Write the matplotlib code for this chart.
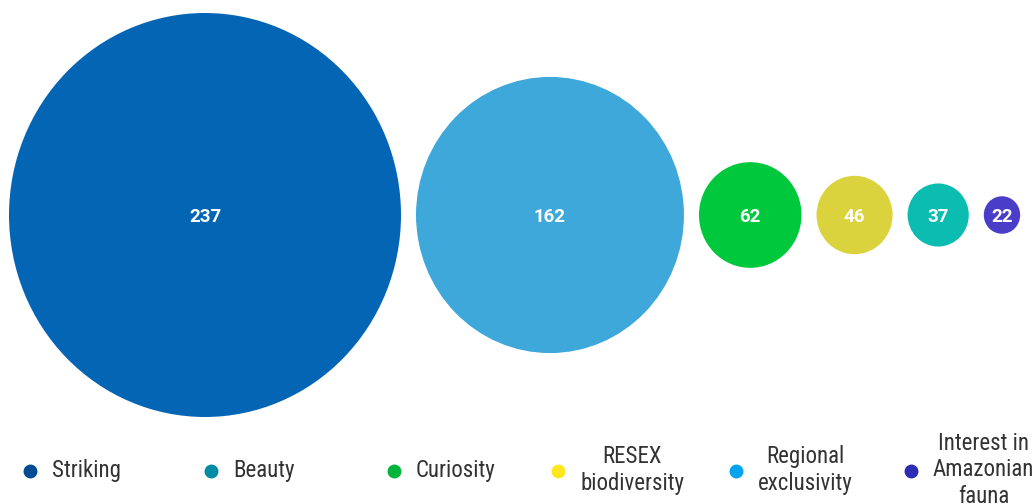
import matplotlib
matplotlib.use("Agg")
import matplotlib.pyplot as plt
from matplotlib import font_manager
from matplotlib.patches import Ellipse

# Bubble data (left to right)
values = [237, 162, 62, 46, 37, 22]
bubble_colors = ["#0565B5", "#3EA8DB", "#00C83C", "#DBD33E", "#0ABDB0", "#4A3DC8"]

# Legend entries
legend_labels = ["Striking", "Beauty", "Curiosity", "RESEX\nbiodiversity",
                 "Regional\nexclusivity", "Interest in\nAmazonian\nfauna"]
legend_colors = ["#004B93", "#008CA5", "#00B43C", "#FFE61E", "#00A3F0", "#2D2DB4"]
legend_x_px = [30, 211, 394, 558, 736, 911]

W, H, DPI = 1033, 504, 100

# Prefer a narrow face for the legend text
fonts = font_manager.fontManager.ttflist
names = {f.name for f in fonts}
legend_font = {"family": "Roboto", "size": 14.5}
for cand in ["Roboto Condensed", "Liberation Sans Narrow", "Open Sans Condensed",
             "Noto Sans Condensed"]:
    if cand in names:
        legend_font = {"family": cand, "size": 16.5}
        break
else:
    narrow = [f for f in fonts if f.name in ("Roboto", "Noto Sans", "Open Sans")
              and str(f.stretch) in ("condensed", "semi-condensed", "75", "87.5")]
    if narrow:
        legend_font = {"family": narrow[0].name, "size": 16.5,
                       "stretch": narrow[0].stretch}

fig = plt.figure(figsize=(W / DPI, H / DPI), dpi=DPI)
fig.patch.set_facecolor("white")
ax = fig.add_axes([0, 0, 1, 1])
ax.set_axis_off()

# Scale: pixels per value unit horizontally / vertically
sx = 392 / max(values)
sy = 404 / max(values)
ax.set_xlim(0, W / sx)
ax.set_ylim(0, H / sy)

left = 9 / sx
gap = 15 / sx
cy = (H - 215) / sy
x = left
for v, c in zip(values, bubble_colors):
    cx = x + v / 2
    ax.add_patch(Ellipse((cx, cy), v, v, facecolor=c, edgecolor="none"))
    ax.text(cx, cy - 1.5 / sy, str(v), ha="center", va="center", color="white",
            fontsize=13.5, fontweight="bold", family="Roboto")
    x += v + gap

# Legend drawn in figure pixel coordinates
for lbl, col, mx in zip(legend_labels, legend_colors, legend_x_px):
    my = H - 471
    fig.add_artist(plt.Line2D([mx / W], [my / H], marker="o", markersize=9,
                              color=col, linestyle="none",
                              transform=fig.transFigure))
    fig.text((mx + 22) / W, (H - 470) / H, lbl, ha="left", va="center",
             multialignment="center", fontproperties=font_manager.FontProperties(**legend_font),
             color="#333333", linespacing=1.2)

fig.savefig("out.png", dpi=DPI, facecolor="white")
